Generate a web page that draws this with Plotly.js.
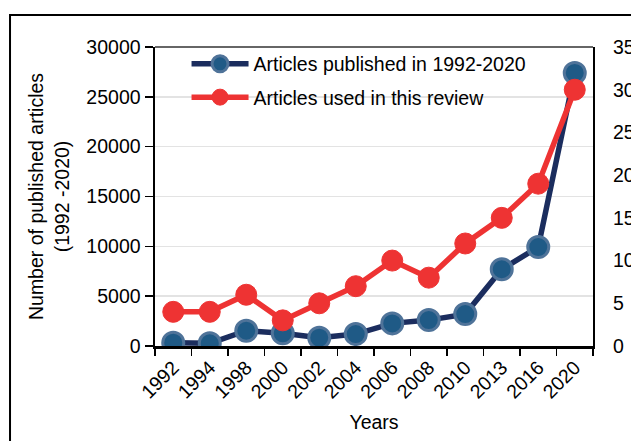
<!DOCTYPE html>
<html>
<head>
<meta charset="utf-8">
<script src="https://cdn.plot.ly/plotly-3.0.1.min.js"></script>
<style>html,body{margin:0;padding:0;background:#fff;}#chart{width:631px;height:441px;}</style>
</head>
<body>
<div id="chart"></div>
<script>
const years = ["1992","1994","1998","2000","2002","2004","2006","2008","2010","2013","2016","2020"];
const published = [330, 270, 1530, 1270, 830, 1200, 2270, 2600, 3200, 7700, 9930, 27400];
const usedInReview = [4, 4, 6, 3, 5, 7, 10, 8, 12, 15, 19, 30];
const leftTicks = [0, 5000, 10000, 15000, 20000, 25000, 30000];
const rightTicks = [0, 5, 10, 15, 20, 25, 30, 35];

const FS = 19.5;
const font = {family: "Liberation Sans, Arial, sans-serif", size: FS, color: "#000"};

const traces = [
  {
    x: years, y: published, name: "Articles published in 1992-2020",
    type: "scatter", mode: "lines+markers", yaxis: "y", legendgroup: "a",
    line: {color: "#1b2d5e", width: 5.5},
    marker: {size: 21, color: "#1f5a86", line: {color: "#4f7399", width: 3}}
  },
  {
    x: years, y: usedInReview, name: "Articles used in this review",
    type: "scatter", mode: "lines+markers", yaxis: "y2", legendgroup: "b",
    line: {color: "#ee3333", width: 5.5},
    marker: {size: 21, color: "#ee3333", line: {color: "#ee3333", width: 1}}
  }
];

const layout = {
  width: 631, height: 441,
  margin: {l: 155, r: 38, t: 47, b: 95},
  paper_bgcolor: "#fff", plot_bgcolor: "#fff",
  font: font,
  showlegend: true,
  legend: {x: 0.072, y: 1.008, xanchor: "left", yanchor: "top", bgcolor: "rgba(0,0,0,0)",
           font: {family: font.family, size: FS, color: "#000"}, itemwidth: 57,
           traceorder: "grouped", tracegroupgap: 5},
  xaxis: {
    type: "category", categoryarray: years, range: [-0.5, 11.5], autorange: false, tickangle: -45,
    tickson: "boundaries", ticks: "outside", ticklen: 7, tickwidth: 1.5, tickcolor: "#000",
    showline: true, linecolor: "#000", linewidth: 2.5, showgrid: false,
    tickfont: {family: font.family, size: FS, color: "#000"},
    title: {text: "Years", font: {family: font.family, size: FS, color: "#000"}, standoff: 14}
  },
  yaxis: {
    range: [0, 30000], autorange: false, tickvals: leftTicks, ticktext: leftTicks.map(String),
    ticks: "outside", ticklen: 8, tickwidth: 1.5, tickcolor: "#000",
    showline: true, linecolor: "#000", linewidth: 2.5,
    showgrid: true, gridcolor: "#e3e3e3", gridwidth: 1.5, zeroline: false,
    tickfont: {family: font.family, size: FS, color: "#000"},
    title: {text: "Number of published articles<br>(1992 -2020)", font: {family: font.family, size: FS, color: "#000"}, standoff: 12}
  },
  yaxis2: {
    overlaying: "y", side: "right", range: [0, 35], autorange: false, tickvals: rightTicks, ticktext: rightTicks.map(String),
    ticks: "", ticklabelstandoff: 14, showline: true, linecolor: "#000", linewidth: 2, showgrid: false, zeroline: false,
    tickfont: {family: font.family, size: FS, color: "#000"}
  },
  shapes: [
    {type: "line", xref: "paper", yref: "paper", x0: 0, x1: 1, y0: 1, y1: 1, line: {color: "#333", width: 1.5}},
    {type: "rect", xref: "paper", yref: "paper", x0: -0.331, x1: 1.3, y0: -0.5, y1: 1.107, line: {color: "#000", width: 2}}
  ]
};

Plotly.newPlot("chart", traces, layout, {displayModeBar: false, staticPlot: true});
</script>
</body>
</html>
